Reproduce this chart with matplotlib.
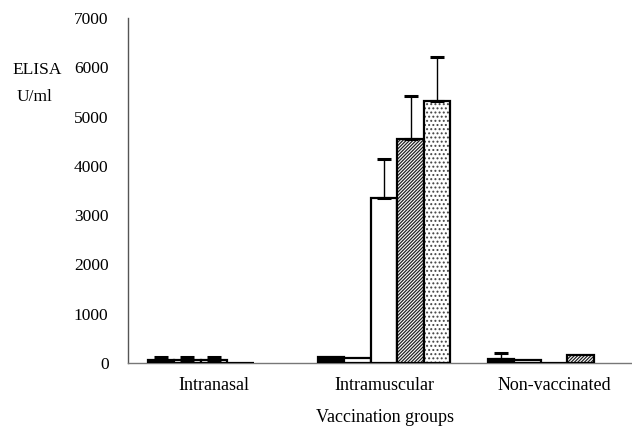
import matplotlib.pyplot as plt
import numpy as np

# ELISA titres (U/ml)
groups = ['Intranasal', 'Intramuscular', 'Non-vaccinated']
s1 = [60, 120, 80]
s2 = [60, 100, 60]
s3 = [60, 3350, 10]
s4 = [10, 4540, 160]
s5 = [0, 5310, 0]
err1 = [55, 0, 120]
err2 = [55, 0, 0]
err3 = [55, 790, 0]
err4 = [0, 870, 0]
err5 = [0, 890, 0]
yticks = [0, 1000, 2000, 3000, 4000, 5000, 6000, 7000]

plt.rcParams['font.family'] = ['Liberation Serif', 'DejaVu Serif']
plt.rcParams['hatch.linewidth'] = 0.9

fig = plt.figure(figsize=(6.32, 4.28), dpi=100)
ax = fig.add_axes([128 / 632, 65 / 428, 504 / 632, 345 / 428])

series = [s1, s2, s3, s4, s5]
errors = [err1, err2, err3, err4, err5]
fills = ['black', 'white', 'white', 'white', 'white']
hatches = [None, None, None, '//////////', '....']
hatch_cols = ['black', 'black', 'black', '#222222', '#444444']

x = np.arange(len(groups))
width = 0.156

# Draw bars one series at a time, skipping empty bars
for i, (vals, errs) in enumerate(zip(series, errors)):
    pos = x + (i - 2) * width
    for p, v, e in zip(pos, vals, errs):
        if v <= 0:
            continue
        # hatch drawn in its own colour, outline on top
        ax.bar(p, v, width, color=fills[i], edgecolor=hatch_cols[i],
               linewidth=0, hatch=hatches[i], zorder=3)
        ax.bar(p, v, width, fill=False, edgecolor='black',
               linewidth=1.6, zorder=3)
        if e > 0:
            ax.errorbar(p, v, yerr=[[0], [e]], fmt='none', ecolor='black',
                        elinewidth=1.0, capsize=5, capthick=2.2, zorder=4)

# Axes styling
ax.set_xlim(-0.506, 2.459)
ax.set_ylim(0, 7000)
ax.set_yticks(yticks)
ax.set_yticklabels([str(t) for t in yticks], fontsize=12.5)
ax.set_xticks(x)
ax.set_xticklabels(groups, fontsize=13)
ax.tick_params(axis='y', length=0, pad=14)
ax.tick_params(axis='x', length=0, pad=10)
for side in ['top', 'right']:
    ax.spines[side].set_visible(False)
ax.spines['left'].set_color('#555555')
ax.spines['bottom'].set_color('#777777')
ax.spines['left'].set_linewidth(1.0)
ax.spines['bottom'].set_linewidth(1.0)

fig.text(12 / 632, 1 - 70 / 428, 'ELISA', fontsize=12.5, va='center', ha='left')
fig.text(17 / 632, 1 - 97 / 428, 'U/ml', fontsize=12.5, va='center', ha='left')
fig.text(385 / 632, 1 - 418 / 428, 'Vaccination groups', fontsize=13,
         va='center', ha='center')

plt.savefig('out.png', dpi=100)
